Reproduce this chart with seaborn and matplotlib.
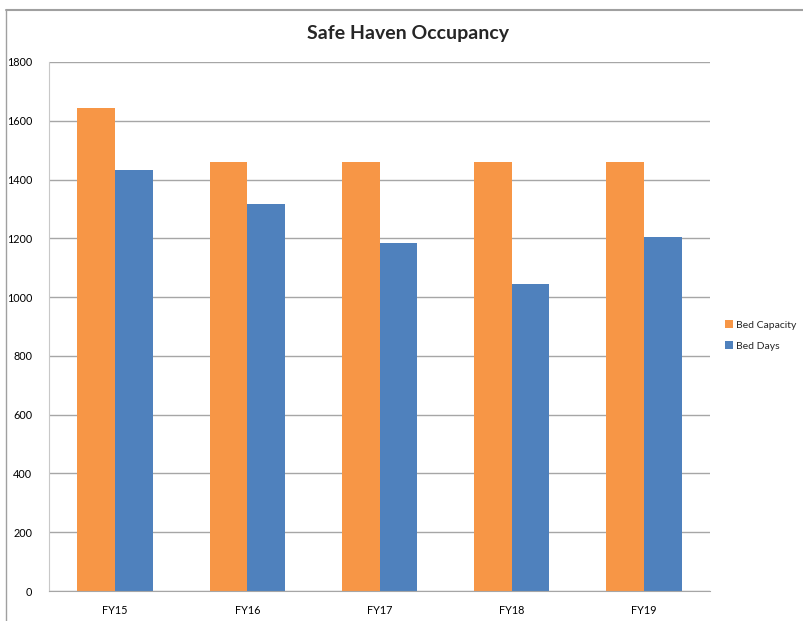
import pandas as pd
import matplotlib.pyplot as plt
import matplotlib.lines as mlines
import seaborn as sns

years = ["FY15", "FY16", "FY17", "FY18", "FY19"]
bed_capacity = [1644, 1460, 1460, 1460, 1460]
bed_days = [1433, 1316, 1185, 1043, 1205]
series = ["Bed Capacity", "Bed Days"]
colors = ["#F79646", "#4F81BD"]

df = pd.DataFrame({
    "Year": years * 2,
    "Value": bed_capacity + bed_days,
    "Series": [series[0]] * len(years) + [series[1]] * len(years),
})

sns.set_style("white")
plt.rcParams["font.family"] = ["Lato", "DejaVu Sans"]

fig = plt.figure(figsize=(8.04, 6.21), dpi=100)
ax = fig.add_axes([49 / 804, 30 / 621, 661 / 804, 529 / 621])

sns.barplot(data=df, x="Year", y="Value", hue="Series", palette=colors,
            width=0.57, gap=0, saturation=1, ax=ax, edgecolor="none")

ax.set_ylim(0, 1800)
ax.set_xlim(-0.5, 4.5)
ax.set_yticks(range(0, 1801, 200))
ax.yaxis.grid(True, color="#A6A6A6", linewidth=1)
ax.set_axisbelow(True)
ax.set_xlabel("")
ax.set_ylabel("")
for side in ["top", "right"]:
    ax.spines[side].set_visible(False)
ax.spines["left"].set_color("#C8C8C8")
ax.spines["bottom"].set_color("#A6A6A6")
ax.tick_params(axis="both", length=0, labelsize=7.8, colors="black")
ax.tick_params(axis="y", pad=12)
ax.tick_params(axis="x", pad=10)

fig.text(0.508, 0.946, "Safe Haven Occupancy", ha="center", va="center",
         fontsize=14, fontweight="bold")

ax.legend(loc="center left", bbox_to_anchor=(1.008, 0.483), frameon=False,
          fontsize=7.5, handlelength=0.8, handleheight=0.8, handletextpad=0.3,
          labelspacing=1.15)

# outer chart frame
fig.add_artist(mlines.Line2D([6 / 804, 6 / 804], [0, 1 - 10 / 621],
                             transform=fig.transFigure, color="#A0A0A0", lw=1))
fig.add_artist(mlines.Line2D([6 / 804, 1], [1 - 10 / 621, 1 - 10 / 621],
                             transform=fig.transFigure, color="#A0A0A0", lw=1.5))

fig.savefig("out.png", dpi=100)
